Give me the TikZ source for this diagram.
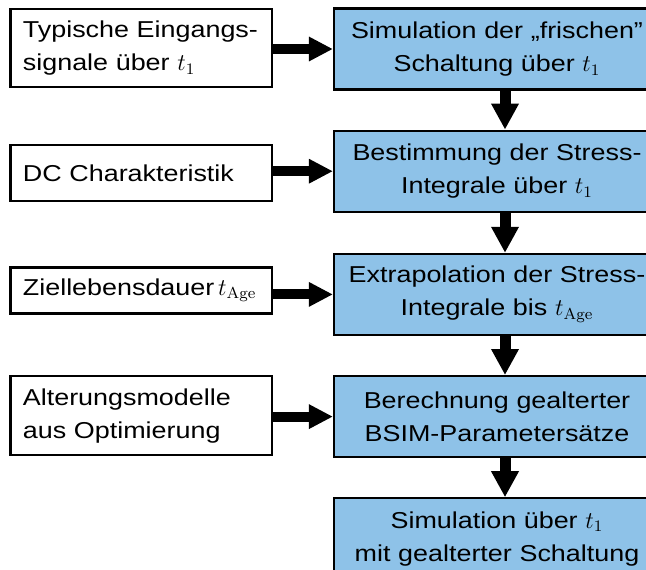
\documentclass[tikz,border=0pt]{standalone}
\usepackage[no-math]{fontspec}
\setmainfont{Liberation Sans}[FakeStretch=1.17]
\usepackage{tikz}
\usetikzlibrary{positioning,arrows.meta}

\definecolor{kastenblau}{RGB}{142,194,232}

\begin{document}
\begin{tikzpicture}[x=0.5pt,y=-0.5pt,
    font=\fontsize{11.5}{16.5}\selectfont,
    eingabe/.style={draw, line width=1.1pt, fill=white,
        minimum height=39pt, text width=118.5pt, inner xsep=6.2pt,
        align=left},
    schritt/.style={draw, line width=1.1pt, fill=kastenblau,
        minimum height=40.5pt, text width=157pt, inner xsep=3pt,
        align=center},
    pfeil/.style={line width=5pt, -{Triangle[length=12pt,width=11.5pt]}}
]
    \useasboundingbox (0,0) rectangle (646,569);
    \clip (0,0) rectangle (646,569);

    % Schritte rechts
    \node[schritt] (sim) at (497,49)
        {Simulation der „frischen”\\Schaltung über $t_1$};
    \node[schritt, below=19.5pt of sim] (stress)
        {Bestimmung der Stress-\\Integrale über $t_1$};
    \node[schritt, below=20pt of stress] (extra)
        {Extrapolation der Stress-\\Integrale bis $t_{\mathrm{Age}}$};
    \node[schritt, below=19.5pt of extra] (bsim)
        {Berechnung gealterter\\BSIM-Parametersätze};
    \node[schritt, below=19.5pt of bsim] (simalt)
        {Simulation über $t_1$\\mit gealterter Schaltung};

    % Eingaben links
    \node[eingabe, left=29.75pt of sim, yshift=0.5pt] (signale)
        {Typische~Eingangs-\\signale über $t_1$};
    \node[eingabe, minimum height=28pt, left=29.75pt of stress, yshift=-1pt] (dc)
        {DC Charakteristik};
    \node[eingabe, minimum height=23pt, left=29.75pt of extra, yshift=2pt] (ziel)
        {Ziellebensdauer\,$t_{\mathrm{Age}}$};
    \node[eingabe, minimum height=39.5pt, left=29.75pt of bsim, yshift=0.5pt] (modelle)
        {Alterungsmodelle\\aus Optimierung};

    % Pfeile
    \draw[pfeil] (signale.east |- sim.west) -- (sim.west);
    \draw[pfeil] (dc.east |- stress.west) -- (stress.west);
    \draw[pfeil] (ziel.east |- extra.west) -- (extra.west);
    \draw[pfeil] (modelle.east |- bsim.west) -- (bsim.west);

    \draw[pfeil, line width=5.5pt, -{Triangle[length=13pt,width=13pt]}]
        ([xshift=4pt]sim.south) -- ([xshift=4pt]stress.north);
    \draw[pfeil, line width=5.5pt, -{Triangle[length=13pt,width=13pt]}]
        ([xshift=4pt]stress.south) -- ([xshift=4pt]extra.north);
    \draw[pfeil, line width=5.5pt, -{Triangle[length=13pt,width=13pt]}]
        ([xshift=4pt]extra.south) -- ([xshift=4pt]bsim.north);
    \draw[pfeil, line width=5.5pt, -{Triangle[length=13pt,width=13pt]}]
        ([xshift=4pt]bsim.south) -- ([xshift=4pt]simalt.north);

\end{tikzpicture}
\end{document}
